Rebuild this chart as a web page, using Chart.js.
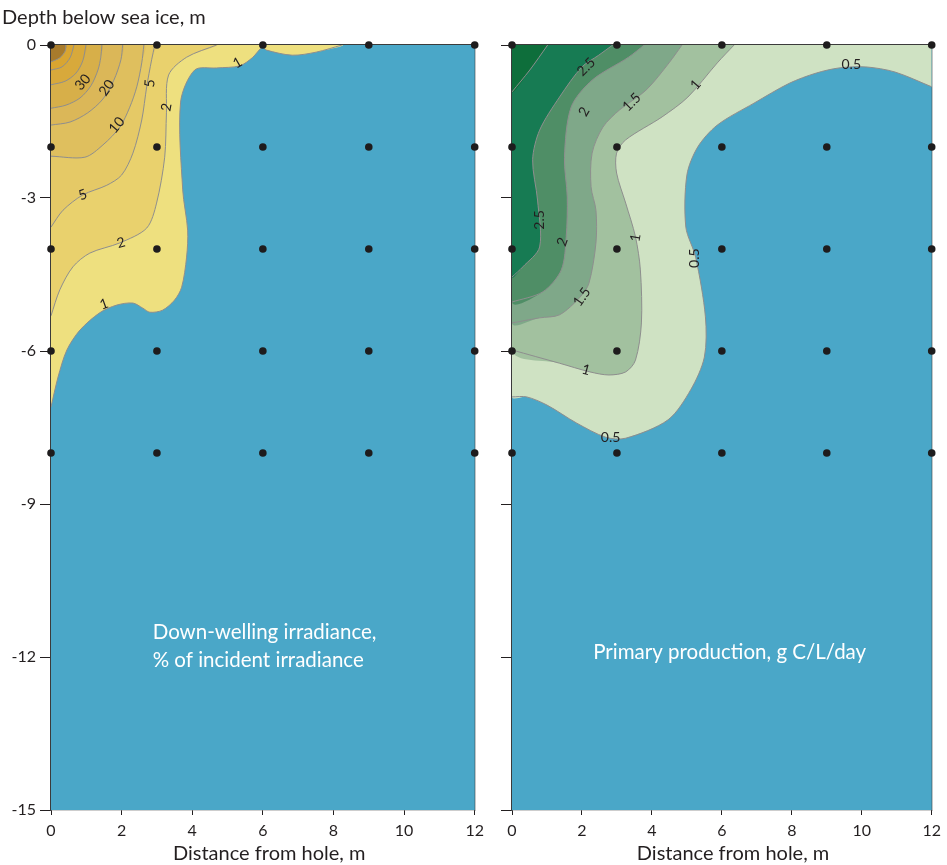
<!DOCTYPE html>
<html>
<head>
<meta charset="utf-8">
<script src="https://cdn.jsdelivr.net/npm/chart.js@4.4.1/dist/chart.umd.min.js"></script>
<style>
  body { margin: 0; background: #fff; }
  #left { position: absolute; left: 0; top: 0; width: 490px; height: 865px; }
  #right { position: absolute; left: 490px; top: 0; width: 457px; height: 865px; }
</style>
</head>
<body>
<div id="left"><canvas id="irrChart"></canvas></div>
<div id="right"><canvas id="prodChart"></canvas></div>
<script>
// sampling grid (distance from hole, depth)
const sampleX = [0, 3, 6, 9, 12];
const sampleDepth = [0, -2, -4, -6, -8];

// down-welling irradiance, % of incident: region >= level, outline as [x, depth]
const irrLevels = [1, 2, 5, 10, 20, 30, 40, 50, 60];
const irr1 = [[0,-7.10],[0.20,-6.51],[0.45,-5.98],[0.82,-5.59],[1.38,-5.25],[1.86,-5.10],[2.32,-5.06],[2.60,-5.16],[2.80,-5.24],[3.16,-5.20],[3.50,-5.00],[3.70,-4.75],[3.84,-4.16],[3.87,-3.63],[3.73,-2.84],[3.67,-1.12],[4.07,-0.49],[4.69,-0.45],[5.34,-0.41],[5.70,-0.25],[5.99,-0.04],[6.10,-0.10],[6.83,-0.20],[7.51,-0.14],[8.24,0],[0,0]];
const irr2 = [[0,-5.31],[0.25,-4.80],[0.62,-4.35],[1.10,-4.08],[1.95,-3.88],[2.71,-3.59],[2.99,-3.10],[3.22,-2.20],[3.27,-1.33],[3.33,-0.59],[3.84,-0.24],[4.69,0],[0,0]];
const irr5 = [[0,-3.57],[0.34,-3.24],[0.90,-2.94],[1.58,-2.75],[2.00,-2.55],[2.32,-2.12],[2.57,-1.47],[2.71,-0.82],[2.85,-0.29],[2.94,0],[0,0]];
const irr10 = [[0,-2.18],[0.96,-2.20],[1.47,-1.96],[1.95,-1.61],[2.23,-1.22],[2.43,-0.82],[2.57,-0.35],[2.63,0],[0,0]];
const irr20 = [[0,-1.57],[0.54,-1.51],[1.04,-1.33],[1.47,-1.06],[1.78,-0.69],[1.98,-0.29],[2.03,0],[0,0]];
const irr30 = [[0,-1.24],[0.42,-1.18],[0.82,-1.04],[1.13,-0.80],[1.33,-0.49],[1.41,-0.24],[1.44,0],[0,0]];
const irr40 = [[0,-0.78],[0.40,-0.71],[0.71,-0.55],[0.90,-0.31],[0.99,0],[0,0]];
const irr50 = [[0,-0.49],[0.31,-0.43],[0.54,-0.25],[0.65,0],[0,0]];
const irr60 = [[0,-0.33],[0.25,-0.25],[0.40,-0.12],[0.42,0],[0,0]];

// primary production, g C/L/day
const prodLevels = [0.5, 1, 1.5, 2, 2.5, 3];
const prod05 = [[12,-0.82],[10.95,-0.53],[10.12,-0.43],[9.35,-0.45],[8.70,-0.55],[7.93,-0.75],[6.92,-1.14],[5.87,-1.57],[5.31,-2.00],[5.00,-2.55],[4.97,-3.57],[5.25,-4.16],[5.53,-5.33],[5.50,-6.12],[5.11,-6.76],[4.46,-7.35],[3.25,-7.71],[2.68,-7.69],[1.84,-7.41],[1.00,-7.06],[0.42,-6.90],[0,-6.90],[0,0],[12,0]];
const prod1 = [[6.35,0],[5.87,-0.35],[5.03,-1.02],[4.29,-1.41],[3.25,-1.86],[2.99,-2.12],[2.99,-2.51],[3.25,-3.10],[3.53,-3.76],[3.67,-4.41],[3.70,-5.45],[3.53,-6.18],[3.25,-6.41],[2.77,-6.47],[2.23,-6.41],[1.36,-6.24],[0,-5.98],[0,0]];
const prod15 = [[4.86,0],[4.49,-0.35],[3.84,-0.88],[3.08,-1.27],[2.60,-1.61],[2.29,-2.12],[2.26,-2.78],[2.40,-3.24],[2.40,-3.88],[2.20,-4.67],[1.95,-4.94],[1.36,-5.29],[0.79,-5.35],[0,-5.45],[0,0]];
const prod2 = [[3.78,0],[3.33,-0.24],[2.29,-0.69],[1.69,-1.22],[1.50,-2.20],[1.58,-2.98],[1.55,-3.76],[1.41,-4.41],[0.88,-4.84],[0,-5.04],[0,0]];
const prod25 = [[2.88,0],[2.48,-0.20],[2.00,-0.43],[1.36,-1.02],[0.79,-1.67],[0.59,-2.25],[0.73,-3.04],[0.79,-3.96],[0.31,-4.35],[0,-4.55],[0,0]];
const prod3 = [[1.02,0],[0.51,-0.49],[0,-0.92],[0,0]];

// contour labels: text, x, depth, angle
const irrLabels = [["30",0.90,-0.73,-50],["20",1.58,-0.84,-55],["10",1.86,-1.57,-50],["5",2.80,-0.75,-85],["2",3.27,-1.22,-80],["1",5.28,-0.35,-30],["5",0.90,-2.94,-20],["2",1.98,-3.88,-15],["1",1.50,-5.08,-20]];
const prodLabels = [["0.5",9.70,-0.39,0],["1",5.25,-0.78,-50],["1.5",3.42,-1.12,-45],["2",2.06,-1.31,-60],["2.5",2.12,-0.43,-45],["2.5",0.79,-3.43,-90],["2",1.44,-3.86,-70],["1",3.53,-3.78,-80],["0.5",5.22,-4.18,-90],["1.5",2.00,-4.94,-55],["1",2.12,-6.37,15],["0.5",2.82,-7.69,0]];
const irrNotes = [["Down-welling irradiance,",2.88,-11.51],["% of incident irradiance",2.88,-12.06]];
const prodNotes = [["Primary production, g C/L/day",2.32,-11.90]];
const xTitle = 'Distance from hole, m';

const irrColors = ['#eee07f','#e9d16d','#e5c966','#dfbf5e','#dbb758','#d7af49','#d8a93b','#d9a531','#a87b2c'];
const prodColors = ['#cfe2c3','#a2c19f','#7fa889','#4f8e66','#177b53','#0e6e3b'];
const ink = '#231f20';
const lineGray = '#8e8e8e';
const FONT = 'Lato';

const waterBg = {
  id: 'waterBg',
  beforeDatasetsDraw(chart) {
    const { ctx, chartArea: a } = chart;
    ctx.save();
    ctx.fillStyle = '#4aa7c8';
    ctx.fillRect(a.left, a.top, a.width, a.height);
    ctx.restore();
  }
};

const contourLabels = {
  id: 'contourLabels',
  afterDatasetsDraw(chart, args, opts) {
    const { ctx, scales: { x, y } } = chart;
    ctx.save();
    ctx.textAlign = 'center';
    ctx.textBaseline = 'middle';
    ctx.fillStyle = ink;
    ctx.font = '14px ' + FONT;
    (opts.labels || []).forEach(([t, lx, ly, a]) => {
      ctx.save();
      ctx.translate(x.getPixelForValue(lx), y.getPixelForValue(ly));
      ctx.rotate(a * Math.PI / 180);
      ctx.fillText(t, 0, 0);
      ctx.restore();
    });
    ctx.textAlign = 'left';
    ctx.fillStyle = '#fff';
    ctx.font = '20.5px ' + FONT;
    (opts.notes || []).forEach(([t, lx, ly]) => ctx.fillText(t, x.getPixelForValue(lx), y.getPixelForValue(ly)));
    // x axis title, sits a little right of the panel centre in the original
    ctx.textAlign = 'center';
    ctx.fillStyle = ink;
    ctx.font = '20px ' + FONT;
    ctx.fillText(xTitle, x.getPixelForValue(opts.titleAt), chart.chartArea.bottom + 44);
    ctx.restore();
  }
};

// corners of the section are part of the filled shapes but not of the contour lines
const isCorner = ([x, y]) => (x === 0 || x === 12) && (y === 0 || y === -15);

function bandSets(polys, colors) {
  const sets = [];
  polys.forEach((p, i) => {
    sets.push({
      data: p.map(([x, y]) => ({ x, y })),
      backgroundColor: colors[i],
      borderWidth: 0,
      pointRadius: 0,
      fill: 'shape',
      tension: 0.3,
      order: 200 - 2 * i
    });
    sets.push({
      data: p.filter(q => !isCorner(q)).map(([x, y]) => ({ x, y })),
      borderColor: lineGray,
      borderWidth: 1,
      pointRadius: 0,
      fill: false,
      tension: 0.3,
      order: 199 - 2 * i
    });
  });
  return sets;
}

function dotSet() {
  const pts = [];
  sampleDepth.forEach(d => sampleX.forEach(x => pts.push({ x, y: d })));
  return {
    data: pts, showLine: false, pointRadius: 3.8, pointHoverRadius: 3.8,
    pointBackgroundColor: '#1e1c1d', pointBorderWidth: 0, order: 0, clip: false
  };
}

function scalesFor(yLabels, yWidth) {
  const border = { display: true, color: '#3b3b3b', width: 1.3 };
  return {
    x: {
      type: 'linear', min: 0, max: 12, z: 1,
      ticks: { stepSize: 2, color: ink, font: { family: FONT, size: 16 }, padding: 6, maxRotation: 0 },
      grid: { drawOnChartArea: false, tickLength: 5, color: ink },
      border,
      afterFit: s => { s.height = 55; }
    },
    y: {
      type: 'linear', min: -15, max: 0, z: 1,
      ticks: { stepSize: 3, display: yLabels, color: ink, font: { family: FONT, size: 16 }, padding: 4 },
      grid: { drawOnChartArea: false, tickLength: 11, color: ink },
      border,
      afterFit: s => { s.width = yWidth; }
    },
    xTop: {
      type: 'linear', axis: 'x', position: 'top', z: 1,
      ticks: { display: false }, grid: { display: false }, border,
      afterFit: s => { s.height = 0; }
    },
    yRight: {
      type: 'linear', axis: 'y', position: 'right', z: 1,
      ticks: { display: false }, grid: { display: false }, border,
      afterFit: s => { s.width = 0; }
    }
  };
}

function makeChart(id, polys, colors, labels, notes, opts) {
  return new Chart(document.getElementById(id), {
    type: 'line',
    data: { datasets: [...bandSets(polys, colors), dotSet()] },
    options: {
      responsive: true,
      maintainAspectRatio: false,
      animation: false,
      layout: { padding: opts.padding },
      scales: scalesFor(opts.yLabels, opts.yWidth),
      plugins: {
        legend: { display: false },
        tooltip: { enabled: false },
        title: opts.title,
        contourLabels: { labels, notes, titleAt: opts.titleAt }
      }
    },
    plugins: [waterBg, contourLabels]
  });
}

makeChart('irrChart', [irr1, irr2, irr5, irr10, irr20, irr30, irr40, irr50, irr60], irrColors, irrLabels, irrNotes, {
  padding: { left: 2, right: 14, top: 0, bottom: 0 },
  yLabels: true, yWidth: 49, titleAt: 6.18,
  title: {
    display: true, text: 'Depth below sea ice, m', align: 'start', color: ink,
    font: { family: FONT, size: 20, weight: 'normal' }, padding: { top: 6, bottom: 15 }
  }
});

makeChart('prodChart', [prod05, prod1, prod15, prod2, prod25, prod3], prodColors, prodLabels, prodNotes, {
  padding: { left: 0, right: 10, top: 45, bottom: 0 },
  yLabels: false, yWidth: 22, titleAt: 6.32,
  title: { display: false }
});
</script>
</body>
</html>
